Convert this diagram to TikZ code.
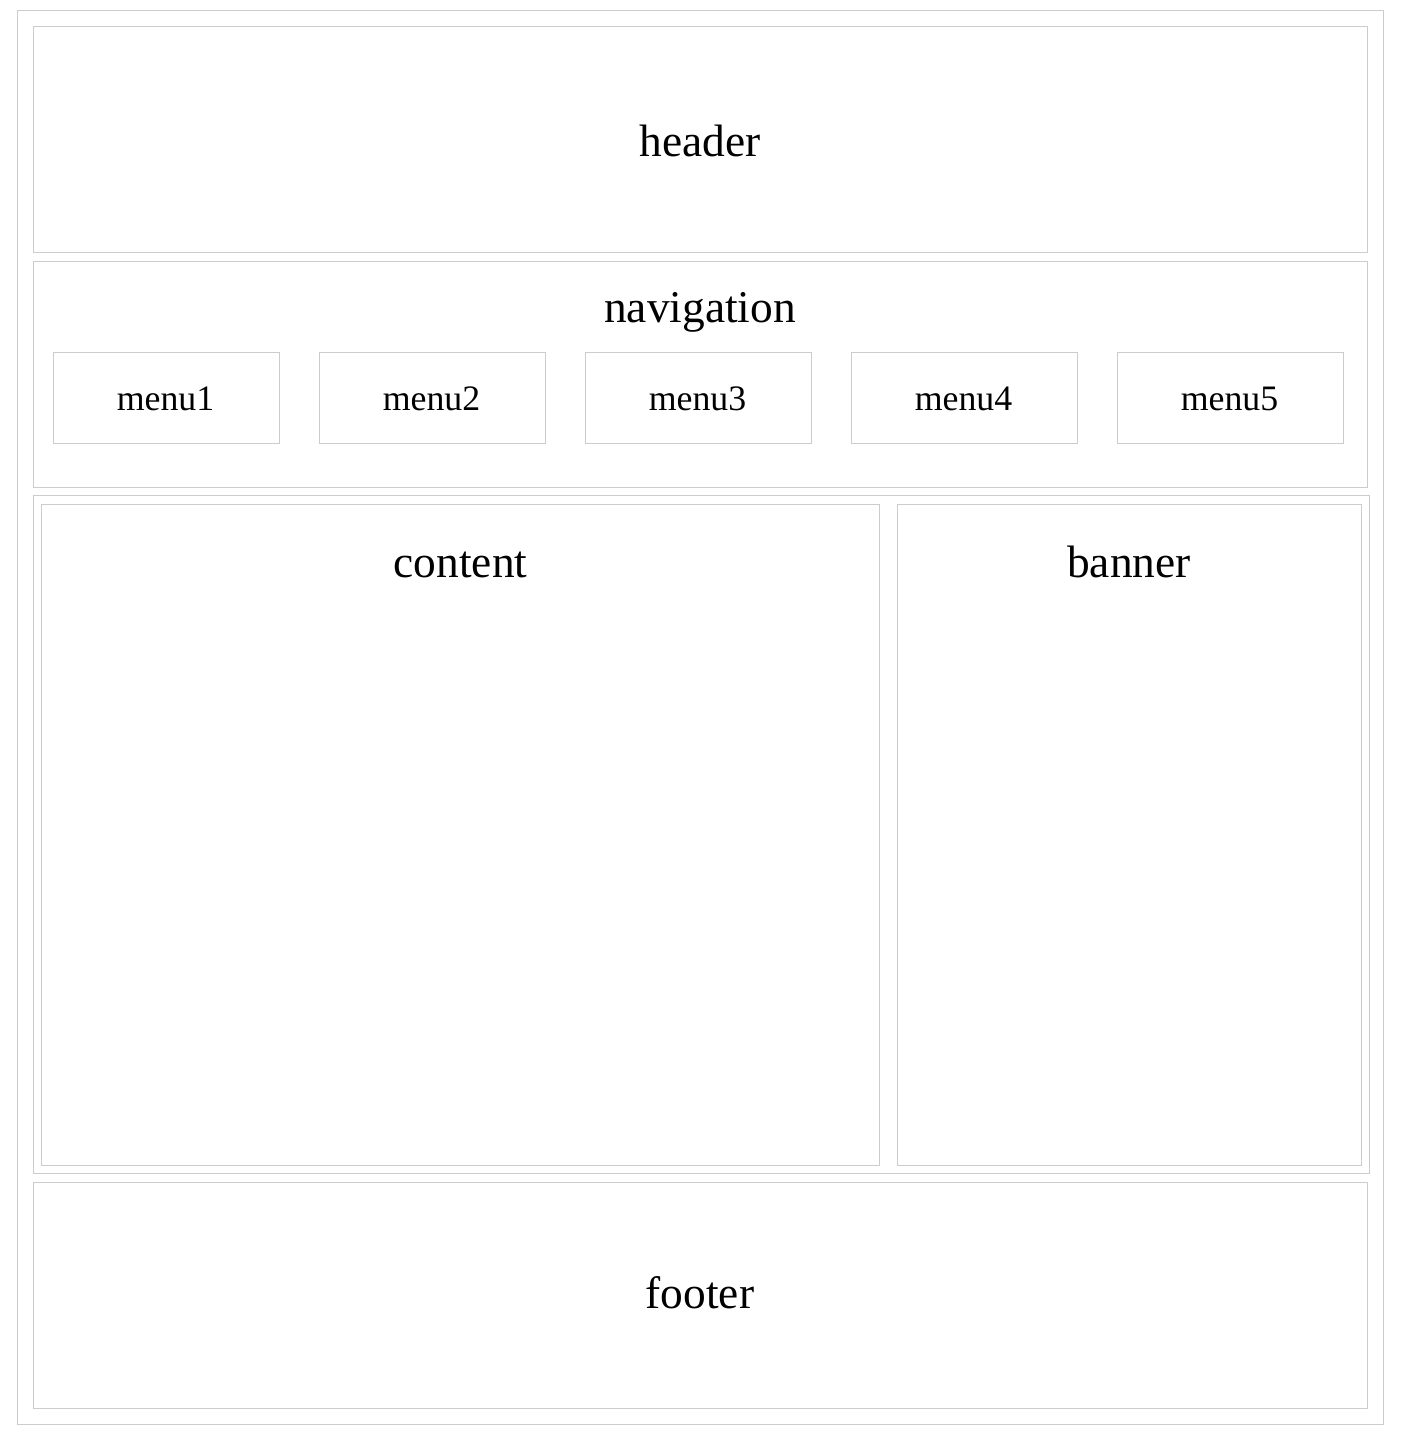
\documentclass[tikz,border=0pt]{standalone}
\usepackage{fontspec}
\setmainfont{Liberation Serif}
\usepackage{tikz}
\definecolor{boxgray}{HTML}{CCCCCC}
\tikzstyle{blk} = [draw=boxgray, line width=0.5pt]
\tikzstyle{big_t} = [anchor=base, inner sep=0pt, font=\fontsize{22.7}{27}\selectfont]
\tikzstyle{menu_t} = [anchor=base, inner sep=0pt, font=\fontsize{17.9}{21}\selectfont]

\begin{document}
\begin{tikzpicture}[x=0.5pt,y=-0.5pt]
\useasboundingbox (0,0) rectangle (1404,1449);
% page frame
\draw [blk] (17.5,10.5) rectangle (1383.5,1424.5);
% header
\draw [blk] (33.5,26.5) rectangle (1367.5,252.5);
\node [big_t] (header) at (700,157) {header};
% navigation with menus
\draw [blk] (33.5,261.5) rectangle (1367.5,487.5);
\node [big_t] (nav) at (700,322) {navigation};
\foreach \i in {1,...,5} {
	\draw [blk] ({53.5+266*(\i-1)},352.5) rectangle ++(226,91);
	\node [menu_t] (menu\i) at ({165.5+266*(\i-1)},410) {menu\i};
}
% middle part
\draw [blk] (33.5,495.5) rectangle (1369.5,1173.5);
\draw [blk] (41.5,504.5) rectangle (879.5,1165.5);
\node [big_t] (content) at (460.5,577) {content};
\draw [blk] (897.5,504.5) rectangle (1361.5,1165.5);
\node [big_t] (banner) at (1129,577) {banner};
% footer
\draw [blk] (33.5,1182.5) rectangle (1367.5,1408.5);
\node [big_t] (footer) at (700,1308) {footer};
\end{tikzpicture}
\end{document}
